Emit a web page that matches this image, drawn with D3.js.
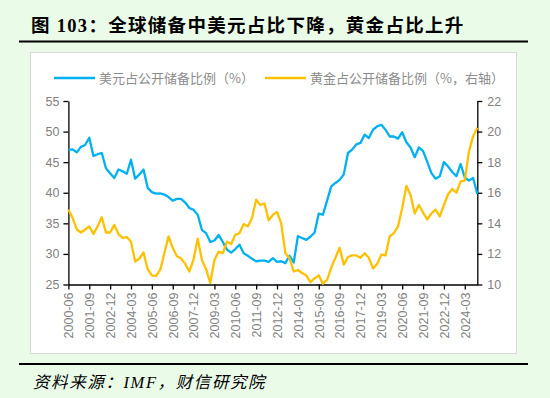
<!DOCTYPE html>
<html lang="zh">
<head>
<meta charset="UTF-8">
<title>全球储备中美元占比下降，黄金占比上升</title>
<script src="https://d3js.org/d3.v7.min.js"></script>
<style>
  body { margin: 0; background: #eafbe8; }
  svg { display: block; }
</style>
</head>
<body>
<div id="chart"></div>
<script>
// -- Données (trimestrielles 2000-06 -> 2024-12)
const usdShare = [
  47.0, 47.1, 46.6, 47.5, 47.8, 49.0, 46.0, 46.3, 46.5, 44.0,
  43.2, 42.4, 43.8, 43.5, 43.1, 45.4, 42.3, 43.0, 43.8, 40.8,
  40.1, 39.85, 39.9, 39.7, 39.3, 38.7, 39.0, 39.0, 38.4, 37.5,
  37.2, 36.4, 33.9, 33.4, 31.95, 32.2, 33.1, 31.95, 30.7, 30.2,
  30.8, 31.5, 30.1, 29.7, 29.2, 28.8, 28.9, 28.9, 28.7, 29.3,
  28.7, 28.8, 28.5, 29.7, 28.6, 32.9, 32.6, 32.3, 32.8, 33.5,
  36.6, 36.4, 38.7, 41.05, 41.6, 42.1, 43.0, 46.5, 47.05, 47.9,
  48.15, 49.5, 48.95, 50.3, 50.85, 51.1, 50.3, 49.2, 49.2, 48.85,
  49.9, 48.25, 47.4, 45.8, 47.4, 46.8, 45.1, 43.2, 42.3, 42.7,
  45.0, 44.3, 43.4, 42.7, 44.7, 42.5, 42.0, 42.4, 39.8
];
const goldShare = [
  14.9, 14.35, 13.6, 13.4, 13.6, 13.8, 13.3, 13.8, 14.4, 13.4,
  13.4, 13.9, 13.3, 13.05, 13.1, 12.8, 11.5, 11.7, 12.1, 11.0,
  10.6, 10.55, 10.95, 12.05, 13.15, 12.4, 11.85, 11.7, 11.35, 10.85,
  11.65, 13.0, 11.6, 11.0, 10.1, 11.6, 12.15, 12.05, 12.8, 12.65,
  13.25, 13.35, 13.95, 13.8, 14.35, 15.55, 15.2, 15.3, 14.2, 14.55,
  14.75, 14.0, 12.05, 11.7, 10.85, 10.95, 10.75, 10.6, 10.15, 10.4,
  10.6, 10.05, 10.3, 11.1, 11.75, 12.4, 11.3, 11.8, 11.9, 11.9,
  11.75, 12.05, 11.75, 11.05, 11.35, 11.95, 11.9, 13.15, 13.35, 13.8,
  15.0, 16.45, 15.85, 14.65, 15.2, 14.7, 14.25, 14.65, 14.9, 14.45,
  15.2, 15.9, 16.25, 16.0, 16.75, 16.8, 18.7, 19.7, 20.25
];
const tickLabels = [
  "2000-06", "2001-09", "2002-12", "2004-03", "2005-06", "2006-09", "2007-12",
  "2009-03", "2010-06", "2011-09", "2012-12", "2014-03", "2015-06", "2016-09",
  "2017-12", "2019-03", "2020-06", "2021-09", "2022-12", "2024-03"
];
const leftTicks = [25, 30, 35, 40, 45, 50, 55];
const rightTicks = [10, 12, 14, 16, 18, 20, 22];
const seriesNames = ["美元占公开储备比例（%）", "黄金占公开储备比例（%，右轴）"];

// -- Trimestres : un libellé par point
const quarters = [];
for (let k = 0; k < usdShare.length; k++) {
  const m = 6 + 3 * k;
  const yr = 2000 + Math.floor((m - 1) / 12);
  const mo = ((m - 1) % 12) + 1;
  quarters.push(yr + "-" + String(mo).padStart(2, "0"));
}

const width = 550, height = 398;
const blue = "#00b0f0", orange = "#ffc000", grey = "#7f7f7f";

const svg = d3.select("#chart").append("svg")
  .attr("width", width)
  .attr("height", height);

svg.append("rect").attr("width", width).attr("height", height).attr("fill", "#eafbe8");

// -- Titre
svg.append("text")
  .attr("x", 31).attr("y", 31.5)
  .attr("font-family", "'Liberation Serif', 'Noto Sans CJK SC', serif")
  .attr("font-weight", "bold")
  .attr("font-size", 18.5)
  .attr("letter-spacing", 1.3)
  .attr("fill", "#000")
  .text("图 103：全球储备中美元占比下降，黄金占比上升");

svg.append("line").attr("x1", 19).attr("x2", 528).attr("y1", 41.5).attr("y2", 41.5)
  .attr("stroke", "#000").attr("stroke-width", 2);

// -- Cadre blanc du graphique
svg.append("rect")
  .attr("x", 30.5).attr("y", 52.5).attr("width", 486).attr("height", 301)
  .attr("fill", "#fff").attr("stroke", "#d9d9d9").attr("stroke-width", 1);

// -- Echelles
const x = d3.scalePoint().domain(quarters).range([68.4, 477.3]);
const yL = d3.scaleLinear().domain([25, 55]).range([284.5, 101]);
const yR = d3.scaleLinear().domain([10, 22]).range([284.5, 101]);

// -- Légende
const legend = svg.append("g").attr("font-family", "'Noto Sans CJK SC', sans-serif")
  .attr("font-size", 13).attr("fill", "#8c8c8c");
[[54, blue, 0], [265, orange, 1]].forEach(([lx, c, k]) => {
  legend.append("line").attr("x1", lx).attr("x2", lx + 41).attr("y1", 78).attr("y2", 78)
    .attr("stroke", c).attr("stroke-width", 2.5);
  legend.append("text").attr("x", lx + 45).attr("y", 82.5).text(seriesNames[k]);
});

// -- Axes
function styleAxis(g) {
  g.selectAll("path, line").attr("stroke", "#000").attr("stroke-width", 1.3);
  g.selectAll("text").attr("fill", grey)
    .attr("font-family", "'Liberation Sans', Arial, sans-serif").attr("font-size", 12.5);
}

svg.append("g").attr("transform", "translate(68.4,0)")
  .call(d3.axisLeft(yL).tickValues(leftTicks).tickSize(5).tickSizeOuter(0).tickPadding(4))
  .call(styleAxis);

svg.append("g").attr("transform", "translate(477.3,0)")
  .call(d3.axisRight(yR).tickValues(rightTicks).tickSize(5).tickSizeOuter(0).tickPadding(5))
  .call(styleAxis);

const xAxis = svg.append("g").attr("transform", "translate(0,284.5)")
  .call(d3.axisBottom(x).tickValues(tickLabels).tickSize(5).tickSizeOuter(0))
  .call(styleAxis);
xAxis.selectAll("text")
  .attr("transform", "rotate(-90)")
  .attr("x", -8).attr("y", 0).attr("dy", "0.35em")
  .style("text-anchor", "end");

// -- Courbes
const lineL = d3.line().x((d, k) => x(quarters[k])).y(d => yL(d));
const lineR = d3.line().x((d, k) => x(quarters[k])).y(d => yR(d));

svg.append("path").datum(usdShare).attr("d", lineL)
  .attr("fill", "none").attr("stroke", blue).attr("stroke-width", 2.3)
  .attr("stroke-linejoin", "round");
svg.append("path").datum(goldShare).attr("d", lineR)
  .attr("fill", "none").attr("stroke", orange).attr("stroke-width", 2.3)
  .attr("stroke-linejoin", "round");

// -- Pied
svg.append("line").attr("x1", 19).attr("x2", 528).attr("y1", 364).attr("y2", 364)
  .attr("stroke", "#000").attr("stroke-width", 2);

svg.append("text")
  .attr("x", 33).attr("y", 388)
  .attr("font-family", "'Liberation Serif', 'Noto Sans CJK SC', serif")
  .attr("font-style", "italic")
  .attr("font-size", 16.5)
  .attr("letter-spacing", 1.6)
  .attr("fill", "#000")
  .text("资料来源：IMF，财信研究院");
</script>
</body>
</html>
